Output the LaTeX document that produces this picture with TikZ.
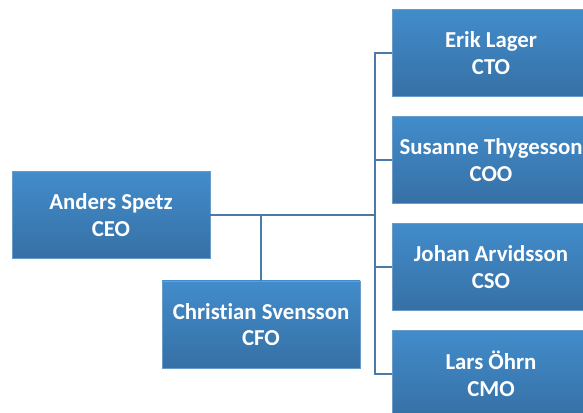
\documentclass[tikz,border=0pt]{standalone}
\usepackage{fontspec}
\setmainfont[Ligatures=NoCommon]{Carlito}
\definecolor{boxtop}{HTML}{428CCB}
\definecolor{boxbot}{HTML}{3670A5}
\definecolor{boxline}{HTML}{6A9CC8}
\definecolor{conn}{HTML}{4A7AA8}
\begin{document}
\begin{tikzpicture}[x=1pt,y=1pt,
  person/.style={rectangle, minimum width=198pt, minimum height=87pt, inner sep=0pt,
    top color=boxtop, bottom color=boxbot, draw=boxline, line width=0.6pt,
    text=white, font=\fontsize{22.8}{26.5}\selectfont\bfseries, align=center},
  link/.style={draw=conn, line width=1.4pt}]
\useasboundingbox (0,0) rectangle (583,412);
\node[person] (ceo) at (111,197) {Anders Spetz\\CEO};
\node[person] (cfo) at (261,87.5) {Christian Svensson\\CFO};
\node[person] (cto) at (491,359) {Erik Lager\\CTO};
\node[person] (coo) at (491,252) {Susanne Thygesson\\COO};
\node[person] (cso) at (491,145) {Johan Arvidsson\\CSO};
\node[person] (cmo) at (491,38) {Lars Öhrn\\CMO};
\coordinate (bus) at (375,197);
\coordinate (split) at (cfo.north |- bus);
\draw[link] (ceo.east) -- (bus);
\draw[link] (split) -- (cfo.north);
\draw[link] (cto.west) -| (bus |- cmo.west) -- (cmo.west);
\draw[link] (bus |- coo.west) -- (coo.west);
\draw[link] (bus |- cso.west) -- (cso.west);
\end{tikzpicture}
\end{document}
